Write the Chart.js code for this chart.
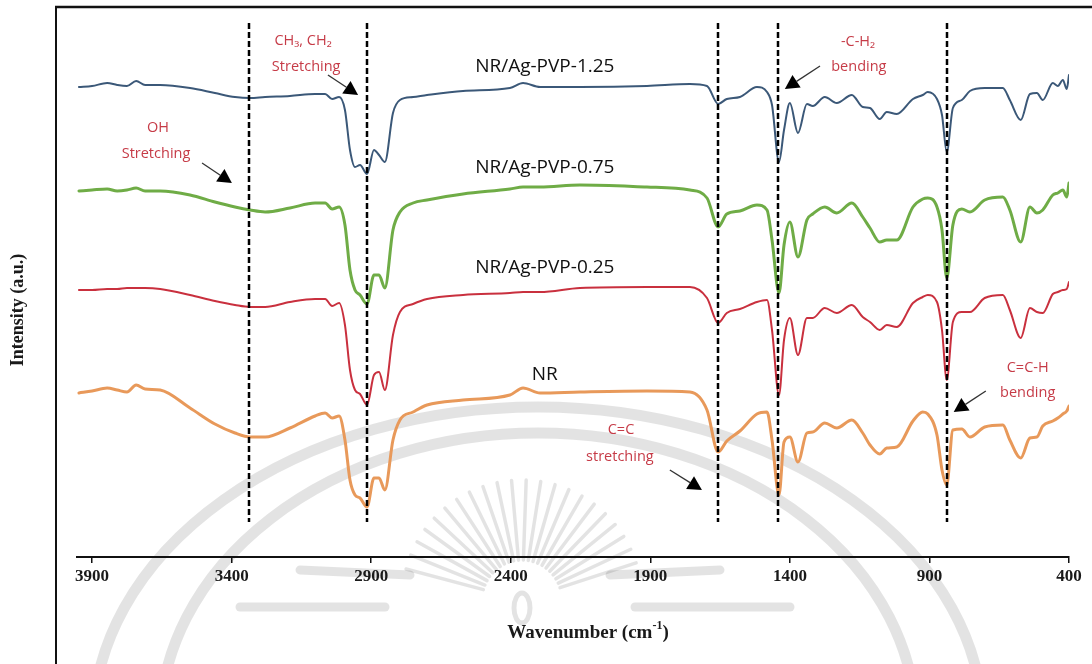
<!DOCTYPE html>
<html>
<head>
<meta charset="utf-8">
<script src="https://cdn.jsdelivr.net/npm/chart.js@4.4.1/dist/chart.umd.min.js"></script>
<style>
  html, body { margin: 0; padding: 0; background: #fff; }
  #wrap { width: 1092px; height: 664px; }
</style>
</head>
<body>
<div id="wrap"><canvas id="c" width="1092" height="664"></canvas></div>
<script>
// FTIR spectra, wavenumber in cm^-1 (plotted high -> low)
const wavenumbers = [3947,3900,3846,3810,3775,3742,3710,3656,3549,3460,
  3388,3334,3280,3191,3101,3065,3040,3015,2994,2976,
  2958,2940,2915,2890,2872,2851,2822,2797,2750,2700,
  2571,2403,2356,2295,2152,1912,1758,1697,1657,1626,
  1579,1518,1482,1464,1439,1421,1400,1371,1339,1318,
  1275,1232,1178,1139,1113,1078,1053,1017,959,924,
  906,873,855,838,816,784,755,702,637,612,
  573,540,515,494,458,440,422,408,400];

// Offset intensities (a.u.) for each sample
const nrAgPvp125 = [470,471,474,472,471,476,472,472,469,464,
  460,459,460,461,463,463,458,460,447,407,
  390,392,383,407,402,395,444,457,460,462,
  466,469,474,470,470,471,473,471,453,458,
  460,470,465,452,395,427,454,424,453,451,
  460,454,462,450,449,438,445,443,458,462,
  465,458,442,405,449,457,466,469,469,457,
  437,463,464,457,474,471,477,468,482];

const nrAgPvp075 = [366,367,368,366,367,369,366,366,362,355,
  350,347,345,349,354,354,348,350,332,287,
  267,262,253,282,282,269,327,345,354,357,
  363,368,370,370,372,370,367,359,330,343,
  346,352,347,317,264,312,335,300,337,343,
  350,344,354,340,329,315,317,317,350,358,
  359,350,327,279,332,348,345,357,360,347,
  315,350,344,347,362,364,367,360,374];

const nrAgPvp025 = [267,267,268,268,269,269,269,268,262,256,
  252,250,250,255,258,258,251,254,232,187,
  167,163,152,182,185,167,222,245,253,258,
  262,264,265,265,269,270,270,259,234,244,
  248,255,257,227,162,217,239,202,239,239,
  249,244,252,240,235,227,232,230,254,260,
  262,255,227,177,235,245,245,259,262,247,
  219,249,245,244,263,265,267,268,275];

const nrNeat = [164,166,169,167,165,172,168,167,149,133,
  124,120,120,129,141,144,139,141,117,77,
  62,59,50,79,79,67,117,137,145,152,
  157,162,169,164,165,166,165,147,105,116,
  126,143,145,117,62,115,120,95,124,125,
  134,129,137,124,112,103,109,110,136,145,
  143,122,87,72,127,128,120,130,132,117,
  99,119,120,131,136,139,143,146,151];

const seriesLabels = ['NR/Ag-PVP-1.25', 'NR/Ag-PVP-0.75', 'NR/Ag-PVP-0.25', 'NR'];
const tickValues = [3900, 3400, 2900, 2400, 1900, 1400, 900, 400];
// characteristic band positions marked with dashed guides (cm^-1)
const bandCentres = [3337, 2914, 1659, 1441, 836];

const seriesColors = ['#3b5878', '#6fac46', '#c9303e', '#e8995a'];
const seriesWidths = [2, 3, 2, 3];
const seriesValues = [nrAgPvp125, nrAgPvp075, nrAgPvp025, nrNeat];

const datasets = seriesValues.map((vals, i) => ({
  label: seriesLabels[i],
  data: wavenumbers.map((w, k) => ({ x: w, y: vals[k] })),
  borderColor: seriesColors[i],
  borderWidth: seriesWidths[i],
  pointRadius: 0,
  fill: false,
  cubicInterpolationMode: 'monotone',
  borderJoinStyle: 'round',
  borderCapStyle: 'round'
}));

// name tags placed above each trace: [wavenumber, intensity]
const nameTags = [[2278, 490], [2278, 389], [2278, 289], [2278, 182]];

// band assignments: text lines at [wavenumber, intensity], arrow tail -> tip
const bandNotes = [
  { lines: ['CH\u2083, CH\u2082', 'Stretching'], at: [[3144, 516], [3133, 490]], tail: [3055, 482], tip: [2947, 462] },
  { lines: ['OH', 'Stretching'], at: [[3664, 429], [3671, 403]], tail: [3506, 394], tip: [3399, 374] },
  { lines: ['-C-H\u2082', 'bending'], at: [[1156, 515], [1153, 490]], tail: [1292, 491], tip: [1418, 468] },
  { lines: ['C=C', 'stretching'], at: [[2005, 127], [2009, 100]], tail: [1830, 87], tip: [1715, 67] },
  { lines: ['C=C-H', 'bending'], at: [[548, 189], [548, 164]], tail: [698, 166], tip: [813, 145] }
];

const pageFrame = {
  id: 'pageFrame',
  beforeDraw(chart) {
    const ctx = chart.ctx;
    ctx.save();
    ctx.fillStyle = '#fff';
    ctx.fillRect(0, 0, chart.width, chart.height);

    // faint seal in the background
    ctx.strokeStyle = 'rgba(0,0,0,0.11)';
    ctx.lineCap = 'round';
    ctx.lineWidth = 11;
    ctx.beginPath();
    ctx.ellipse(538, 725, 445, 318, 0, Math.PI, 2 * Math.PI);
    ctx.stroke();
    ctx.beginPath();
    ctx.ellipse(538, 725, 378, 292, 0, Math.PI, 2 * Math.PI);
    ctx.stroke();
    ctx.lineWidth = 3.5;
    const cx = 522, cy = 600;
    for (let a = -165; a <= -15; a += 7) {
      const r = a * Math.PI / 180;
      ctx.beginPath();
      ctx.moveTo(cx + Math.cos(r) * 40, cy + Math.sin(r) * 40);
      ctx.lineTo(cx + Math.cos(r) * 120, cy + Math.sin(r) * 120);
      ctx.stroke();
    }
    ctx.lineWidth = 9;
    [[240, 607, 385, 607], [635, 607, 790, 607], [300, 570, 410, 575], [610, 575, 720, 570]].forEach(s => {
      ctx.beginPath();
      ctx.moveTo(s[0], s[1]);
      ctx.lineTo(s[2], s[3]);
      ctx.stroke();
    });
    ctx.lineWidth = 5;
    ctx.beginPath();
    ctx.ellipse(cx, cy + 8, 8, 15, 0, 0, 2 * Math.PI);
    ctx.stroke();

    // frame
    ctx.strokeStyle = '#111';
    ctx.lineCap = 'butt';
    ctx.lineWidth = 2.5;
    ctx.beginPath();
    ctx.moveTo(55, 7);
    ctx.lineTo(chart.width, 7);
    ctx.stroke();
    ctx.lineWidth = 2;
    ctx.beginPath();
    ctx.moveTo(56, 7);
    ctx.lineTo(56, chart.height);
    ctx.stroke();
    ctx.restore();
  },
  afterDatasetsDraw(chart) {
    const ctx = chart.ctx;
    const xs = chart.scales.x, ys = chart.scales.y;
    ctx.save();
    // dashed band guides
    ctx.strokeStyle = '#000';
    ctx.lineWidth = 2.5;
    ctx.setLineDash([6, 3]);
    bandCentres.forEach(w => {
      const px = Math.round(xs.getPixelForValue(w));
      ctx.beginPath();
      ctx.moveTo(px, ys.getPixelForValue(534));
      ctx.lineTo(px, ys.getPixelForValue(35));
      ctx.stroke();
    });
    ctx.setLineDash([]);

    // trace names
    ctx.fillStyle = '#111';
    ctx.font = '19px "Open Sans", "Liberation Sans", sans-serif';
    ctx.textAlign = 'center';
    ctx.textBaseline = 'middle';
    nameTags.forEach((p, i) => {
      ctx.fillText(seriesLabels[i], xs.getPixelForValue(p[0]), ys.getPixelForValue(p[1]));
    });

    // band assignments
    ctx.font = '14.5px "Open Sans", "DejaVu Sans", sans-serif';
    ctx.fillStyle = '#c63b47';
    bandNotes.forEach(n => {
      n.lines.forEach((t, j) => {
        ctx.fillText(t, xs.getPixelForValue(n.at[j][0]), ys.getPixelForValue(n.at[j][1]));
      });
      const x0 = xs.getPixelForValue(n.tail[0]), y0 = ys.getPixelForValue(n.tail[1]);
      const x1 = xs.getPixelForValue(n.tip[0]), y1 = ys.getPixelForValue(n.tip[1]);
      const ang = Math.atan2(y1 - y0, x1 - x0);
      const hl = 14, hw = 7.5;
      const bx = x1 - Math.cos(ang) * hl, by = y1 - Math.sin(ang) * hl;
      ctx.strokeStyle = '#333';
      ctx.lineWidth = 1.3;
      ctx.beginPath();
      ctx.moveTo(x0, y0);
      ctx.lineTo(bx, by);
      ctx.stroke();
      ctx.fillStyle = '#000';
      ctx.beginPath();
      ctx.moveTo(x1, y1);
      ctx.lineTo(bx + Math.sin(ang) * hw, by - Math.cos(ang) * hw);
      ctx.lineTo(bx - Math.sin(ang) * hw, by + Math.cos(ang) * hw);
      ctx.closePath();
      ctx.fill();
      ctx.fillStyle = '#c63b47';
    });
    ctx.restore();
  },
  afterDraw(chart) {
    const ctx = chart.ctx;
    ctx.save();
    ctx.fillStyle = '#1a1a1a';
    ctx.textBaseline = 'middle';
    // x title with superscript exponent
    const a = 'Wavenumber (cm', c = ')';
    ctx.font = 'bold 19px "Liberation Serif", serif';
    const wa = ctx.measureText(a).width, wc = ctx.measureText(c).width;
    ctx.font = 'bold 12px "Liberation Serif", serif';
    const wb = ctx.measureText('-1').width;
    const total = wa + wb + wc;
    const x = 588 - total / 2;
    ctx.textAlign = 'left';
    ctx.font = 'bold 19px "Liberation Serif", serif';
    ctx.fillText(a, x, 633);
    ctx.font = 'bold 12px "Liberation Serif", serif';
    ctx.fillText('-1', x + wa, 626);
    ctx.font = 'bold 19px "Liberation Serif", serif';
    ctx.fillText(c, x + wa + wb, 633);
    // y title
    ctx.translate(18, 310);
    ctx.rotate(-Math.PI / 2);
    ctx.textAlign = 'center';
    ctx.font = 'bold 18px "Liberation Serif", serif';
    ctx.fillText('Intensity (a.u.)', 0, 0);
    ctx.restore();
  }
};

new Chart(document.getElementById('c'), {
  type: 'line',
  data: { datasets },
  options: {
    responsive: false,
    animation: false,
    layout: { padding: { left: 77, right: 23, top: 7, bottom: 0 } },
    plugins: { legend: { display: false }, tooltip: { enabled: false } },
    scales: {
      x: {
        type: 'linear',
        reverse: true,
        min: 400,
        max: 3954,
        afterBuildTicks: s => { s.ticks = tickValues.map(v => ({ value: v })); },
        afterFit: s => { s.height = 107; },
        grid: { display: true, drawOnChartArea: false, drawTicks: true, tickLength: 6, color: '#111', lineWidth: 1.5 },
        border: { display: true, color: '#111', width: 2 },
        ticks: {
          autoSkip: false, maxRotation: 0, padding: 3, color: '#1a1a1a',
          font: { family: '"Liberation Serif", serif', size: 17, weight: 'bold' },
          callback: v => String(v)
        }
      },
      y: { display: false, min: 0, max: 550 }
    }
  },
  plugins: [pageFrame]
});
</script>
</body>
</html>
